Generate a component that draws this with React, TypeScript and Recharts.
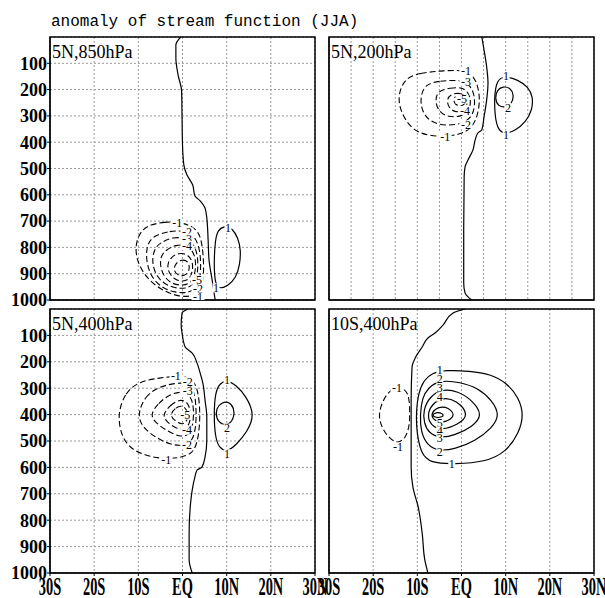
import { ComposedChart, Line, Scatter, XAxis, YAxis, CartesianGrid, ReferenceArea } from 'recharts';

// [latitude (south < 0), pressure hPa]
type Pt = [number, number];
type Lbl = { x: number; p: number; t: string };

const latTicks = [-30, -20, -10, 0, 10, 20, 30];
const latTicksFine = [-30, -25, -20, -15, -10, -5, 0, 5, 10, 15, 20, 25, 30];
const presTicks = [100, 200, 300, 400, 500, 600, 700, 800, 900, 1000];

// ---- 5N,850hPa ----
const zero850: Pt[] = [[-0.4, 0], [-1.5, 30], [-1.5, 80], [-1.0, 144], [-0.2, 205], [-0.1, 308], [0, 410], [0.3, 486], [1.0, 524], [2.3, 562], [2.8, 604], [4.0, 623], [5.1, 650], [5.5, 688], [5.8, 771], [6.0, 847], [6.7, 923], [7.4, 1000]];
const pos850: Pt[][] = [
  [[7.4, 771], [8.0, 733], [9.6, 718], [11.2, 726], [12.6, 764], [13.2, 809], [13.0, 866], [12.1, 916], [10.3, 946], [8.5, 958], [7.4, 942], [7.1, 866]],
];
const neg850: Pt[][] = [
  [[-7.4, 714], [-4.0, 703], [-1.0, 703], [2.2, 718], [4.0, 749], [4.6, 809], [4.9, 885], [4.4, 954], [3.1, 984], [-0.6, 990], [-5.1, 961], [-8.9, 904], [-10.8, 828], [-10.3, 764], [-8.9, 730]],
  [[-6.7, 756], [-2.8, 737], [0.6, 737], [2.8, 756], [4.0, 809], [4.2, 885], [3.7, 946], [1.7, 973], [-1.7, 973], [-5.1, 950], [-7.4, 904], [-8.3, 840], [-8.0, 790]],
  [[-5.1, 783], [-2.2, 760], [0.8, 764], [2.6, 787], [3.5, 832], [3.5, 893], [2.8, 939], [0.8, 958], [-2.2, 954], [-4.9, 931], [-6.5, 889], [-6.9, 840], [-6.2, 802]],
  [[-3.7, 809], [-1.5, 790], [0.8, 790], [2.4, 813], [3.1, 855], [2.8, 904], [1.9, 935], [0.1, 946], [-2.4, 939], [-4.2, 912], [-5.1, 870], [-4.9, 832]],
  [[-2.6, 836], [-0.8, 821], [1.0, 825], [2.2, 847], [2.4, 885], [1.7, 920], [0.1, 931], [-1.7, 923], [-3.1, 897], [-3.5, 866]],
  [[-1.5, 859], [-0.1, 845], [1.4, 853], [1.7, 885], [0.6, 910], [-1.2, 906], [-2.1, 885]],
];
const labels850: Lbl[] = [
  { x: -1.2, p: 707, t: '-1' }, { x: 1.0, p: 741, t: '-2' }, { x: 1.0, p: 766, t: '-3' }, { x: 1.0, p: 792, t: '-4' },
  { x: 3.3, p: 923, t: '-5' }, { x: 3.5, p: 958, t: '-2' }, { x: 3.5, p: 988, t: '-1' },
  { x: 10.3, p: 726, t: '1' }, { x: 7.6, p: 954, t: '1' },
];

// ---- 5N,200hPa ----
const zero200: Pt[] = [[4.6, 0], [5.1, 49], [5.7, 114], [6.0, 175], [5.7, 239], [5.1, 304], [4.6, 353], [3.7, 365], [3.1, 391], [2.6, 429], [1.5, 467], [0.8, 494], [0.6, 532], [0.5, 733], [0.5, 935], [0.8, 973], [2.3, 1000]];
const pos200: Pt[][] = [
  [[8.0, 163], [9.8, 148], [12.8, 163], [15.1, 190], [16.2, 228], [16.0, 277], [14.6, 323], [12.1, 357], [9.8, 369], [8.3, 353], [7.6, 308], [7.4, 228]],
  [[8.0, 201], [9.4, 188], [11.0, 192], [11.9, 220], [11.4, 253], [10.1, 268], [8.3, 264], [7.6, 236]],
];
const neg200: Pt[][] = [
  [[-12.8, 156], [-9.4, 137], [-4.9, 129], [0.1, 125], [2.4, 141], [3.7, 182], [4.2, 239], [3.7, 296], [2.4, 346], [-0.3, 372], [-4.9, 380], [-9.4, 369], [-12.1, 334], [-13.9, 277], [-14.4, 220]],
  [[-8.3, 179], [-4.9, 167], [-0.8, 163], [1.5, 175], [2.8, 209], [3.1, 258], [2.4, 304], [0.1, 331], [-3.7, 338], [-7.1, 323], [-8.9, 285], [-9.4, 232]],
  [[-5.3, 205], [-2.6, 194], [0.1, 190], [1.7, 213], [2.2, 251], [1.5, 285], [-0.3, 304], [-3.3, 304], [-5.3, 281], [-6.0, 239]],
  [[-2.6, 218], [-0.3, 211], [1.2, 228], [1.4, 258], [0.3, 283], [-1.5, 287], [-3.0, 266], [-3.3, 239]],
  [[-1.7, 226], [-0.1, 217], [1.0, 236], [0.8, 257], [-0.6, 265], [-1.8, 251]],
];
const labels200: Lbl[] = [
  { x: 1.0, p: 129, t: '-1' }, { x: 1.0, p: 168, t: '-3' }, { x: 0.1, p: 236, t: '-5' }, { x: 0.8, p: 279, t: '-4' },
  { x: 1.0, p: 334, t: '-2' }, { x: -3.7, p: 380, t: '-1' },
  { x: 10.1, p: 146, t: '1' }, { x: 10.5, p: 268, t: '2' }, { x: 10.1, p: 372, t: '1' },
];

// ---- 5N,400hPa ----
const zero5n400: Pt[] = [[1.2, 0], [-0.1, 15], [-0.3, 61], [-0.1, 91], [0.6, 144], [2.2, 167], [3.3, 205], [4.0, 243], [4.6, 280], [5.1, 345], [5.5, 409], [5.5, 497], [5.1, 561], [4.4, 599], [3.3, 610], [2.8, 637], [2.2, 686], [1.9, 724], [1.5, 849], [1.5, 951], [2.2, 1000]];
const pos5n400: Pt[][] = [
  [[7.4, 315], [8.5, 280], [10.1, 269], [12.1, 288], [14.4, 330], [16.4, 402], [14.6, 466], [12.3, 512], [10.1, 542], [8.3, 527], [7.4, 485], [7.1, 402]],
  [[7.6, 375], [8.9, 354], [10.5, 350], [11.7, 375], [11.7, 411], [10.6, 438], [8.9, 438], [7.6, 417]],
];
const neg5n400: Pt[][] = [
  [[-14.8, 402], [-13.0, 315], [-9.6, 273], [-5.1, 261], [-1.5, 254], [1.2, 258], [2.8, 277], [3.7, 326], [4.0, 402], [3.7, 478], [2.8, 534], [1.2, 557], [-2.8, 569], [-7.4, 561], [-11.4, 534], [-13.7, 489]],
  [[-10.3, 402], [-8.5, 330], [-5.5, 296], [-1.7, 280], [1.2, 280], [2.6, 307], [3.1, 364], [3.1, 440], [2.4, 496], [0.6, 519], [-2.8, 515], [-6.2, 485], [-8.9, 451]],
  [[-7.4, 402], [-5.5, 356], [-2.8, 322], [0.1, 311], [1.9, 330], [2.6, 375], [2.4, 440], [1.5, 478], [-0.6, 485], [-3.5, 462], [-6.0, 432]],
  [[-4.6, 402], [-2.8, 364], [-0.6, 341], [1.2, 352], [1.9, 390], [1.7, 432], [0.6, 459], [-1.7, 451], [-3.5, 428]],
  [[-3.0, 402], [-1.5, 372], [0.1, 364], [1.2, 387], [1.2, 421], [0.1, 440], [-1.6, 426]],
];
const labels5n400: Lbl[] = [
  { x: -1.5, p: 254, t: '-1' }, { x: 1.2, p: 275, t: '-2' }, { x: 1.2, p: 311, t: '-3' }, { x: 0.6, p: 402, t: '-5' },
  { x: 1.0, p: 459, t: '-4' }, { x: 1.0, p: 515, t: '-2' }, { x: -3.7, p: 569, t: '-1' },
  { x: 10.1, p: 269, t: '1' }, { x: 10.1, p: 451, t: '2' }, { x: 10.1, p: 548, t: '1' },
];

// ---- 10S,400hPa ----
const zero10s400: Pt[] = [[0.8, 0], [-1.9, 15], [-4.2, 61], [-6.0, 91], [-7.6, 110], [-8.9, 144], [-10.5, 186], [-11.2, 220], [-11.4, 345], [-11.4, 599], [-11.0, 675], [-9.8, 750], [-8.9, 849], [-8.3, 951], [-7.6, 1000]];
const pos10s400: Pt[][] = [
  [[-6.7, 243], [-3.7, 231], [1.9, 235], [6.5, 246], [10.3, 280], [13.0, 337], [14.1, 402], [13.0, 470], [10.1, 542], [5.3, 580], [-1.5, 587], [-7.1, 584], [-9.2, 546], [-10.1, 470], [-10.3, 402], [-9.8, 318], [-8.5, 269]],
  [[-7.6, 299], [-4.9, 269], [-0.3, 277], [3.7, 299], [6.9, 345], [8.7, 402], [6.9, 451], [3.1, 500], [-1.5, 531], [-5.3, 538], [-7.8, 515], [-9.2, 466], [-9.4, 402], [-8.9, 337]],
  [[-7.1, 330], [-4.4, 303], [-0.8, 311], [2.4, 345], [4.9, 402], [2.4, 447], [-1.5, 478], [-4.9, 489], [-7.4, 470], [-8.5, 432], [-8.7, 383]],
  [[-6.7, 360], [-4.2, 334], [-1.2, 345], [1.9, 402], [-1.0, 440], [-4.4, 459], [-6.9, 443], [-7.8, 402]],
  [[-6.2, 379], [-3.7, 364], [-1.0, 402], [-3.7, 432], [-6.2, 424], [-6.9, 402]],
  [[-7.0, 402], [-5.3, 388], [-3.6, 402], [-5.3, 416]],
];
const neg10s400: Pt[][] = [
  [[-18.9, 402], [-17.8, 345], [-16.2, 307], [-13.9, 292], [-12.1, 315], [-11.7, 364], [-11.7, 440], [-12.6, 489], [-14.6, 512], [-16.6, 485], [-18.0, 451]],
];
const labels10s400: Lbl[] = [
  { x: -4.9, p: 231, t: '1' }, { x: -4.9, p: 263, t: '2' }, { x: -4.9, p: 298, t: '3' }, { x: -4.9, p: 334, t: '4' },
  { x: -4.9, p: 432, t: '5' }, { x: -4.9, p: 462, t: '4' }, { x: -4.9, p: 487, t: '3' }, { x: -4.9, p: 540, t: '2' },
  { x: -2.2, p: 587, t: '1' }, { x: -14.6, p: 299, t: '-1' }, { x: -14.4, p: 523, t: '-1' },
];

const rows = (c: Pt[]) => c.map(([x, p]) => ({ x, p }));
const latName = (v: number) => (v === 0 ? 'EQ' : v < 0 ? `${-v}S` : `${v}N`);

const LatTick = (props: any) => {
  const { x, y, payload } = props;
  if (payload.value % 10 !== 0) return <g />;
  return (
    <text
      transform={`translate(${x},${y - 1}) scale(0.8,1.35)`}
      textAnchor="middle"
      dy="0.72em"
      fontFamily="Liberation Serif"
      fontWeight="bold"
      fontSize={18}
      fill="#000"
    >
      {latName(payload.value)}
    </text>
  );
};

const ContourLabel = (props: any) => {
  const { cx, cy, payload } = props;
  const w = payload.t.length * 6 + 1;
  return (
    <g>
      <rect x={cx - w / 2} y={cy - 4.5} width={w} height={9} fill="#fff" />
      <text x={cx} y={cy} dy="0.36em" textAnchor="middle" fontFamily="Liberation Serif" fontSize={12} fill="#000" stroke="none">
        {payload.t}
      </text>
    </g>
  );
};

interface PanelProps {
  left: number;
  top: number;
  height: number;
  axisH: number;
  name: string;
  zero: Pt[];
  pos: Pt[][];
  neg: Pt[][];
  labels: Lbl[];
  xTicks: number[];
  showX: boolean;
  showY: boolean;
}

function Panel({ left, top, height, axisH, name, zero, pos, neg, labels, xTicks, showX, showY }: PanelProps) {
  const width = 330;
  // grid follows the panel's own latitude ticks (5 deg for the 200hPa panel)
  const gridX = ({ offset }: any) => xTicks.map((t) => offset.left + ((t + 30) / 60) * offset.width);
  return (
    <div style={{ position: 'absolute', left, top, width, height }}>
      <ComposedChart width={width} height={height} margin={{ top: 37, right: 15, bottom: 0, left: 0 }}>
        <CartesianGrid stroke="#999" strokeDasharray="2 2" verticalCoordinatesGenerator={gridX} />
        <XAxis
          type="number"
          dataKey="x"
          domain={[-30, 30]}
          ticks={xTicks}
          interval={0}
          allowDataOverflow
          height={axisH}
          tickSize={3}
          tickMargin={2}
          axisLine={{ stroke: '#000' }}
          tickLine={{ stroke: '#000' }}
          tick={showX ? LatTick : false}
        />
        <YAxis
          type="number"
          dataKey="p"
          domain={[0, 1000]}
          reversed
          ticks={presTicks}
          interval={0}
          allowDataOverflow
          width={50}
          tickSize={3}
          tickMargin={0}
          axisLine={{ stroke: '#000' }}
          tickLine={{ stroke: '#000' }}
          tick={showY ? { fontFamily: 'Liberation Serif', fontWeight: 'bold', fontSize: 18, fill: '#000' } : false}
        />
        <Line data={rows(zero)} dataKey="p" type="monotoneY" stroke="#000" strokeWidth={1.2} dot={false} activeDot={false} isAnimationActive={false} />
        {pos.map((c, i) => (
          <Line key={'pos' + i} data={rows(c)} dataKey="p" type="basisClosed" stroke="#000" strokeWidth={1.2} dot={false} activeDot={false} isAnimationActive={false} />
        ))}
        {neg.map((c, i) => (
          <Line key={'neg' + i} data={rows(c)} dataKey="p" type="basisClosed" stroke="#000" strokeWidth={1.1} strokeDasharray="6 3" dot={false} activeDot={false} isAnimationActive={false} />
        ))}
        <Scatter data={labels} dataKey="p" shape={ContourLabel} isAnimationActive={false} />
        <ReferenceArea x1={-30} x2={30} y1={0} y2={1000} fill="none" stroke="#000" strokeWidth={1.5} />
      </ComposedChart>
      <div
        style={{
          position: 'absolute',
          left: 52,
          top: 43,
          fontFamily: 'Liberation Serif',
          fontSize: 18,
          lineHeight: '18px',
          color: '#000',
          whiteSpace: 'nowrap',
        }}
      >
        {name}
      </div>
    </div>
  );
}

export default function App() {
  return (
    <div style={{ position: 'absolute', left: 0, top: 0, width: 605, height: 598, overflow: 'hidden', background: '#fff' }}>
      <div
        style={{
          position: 'absolute',
          left: 51,
          top: 14,
          fontFamily: 'Liberation Mono',
          fontSize: 16,
          lineHeight: '16px',
          color: '#000',
          whiteSpace: 'pre',
        }}
      >
        anomaly of stream function (JJA)
      </div>
      <Panel left={0} top={0} height={310} axisH={10} name="5N,850hPa" zero={zero850} pos={pos850} neg={neg850} labels={labels850} xTicks={latTicks} showX={false} showY />
      <Panel left={279} top={0} height={310} axisH={10} name="5N,200hPa" zero={zero200} pos={pos200} neg={neg200} labels={labels200} xTicks={latTicksFine} showX={false} showY={false} />
      <Panel left={0} top={272} height={326} axisH={25} name="5N,400hPa" zero={zero5n400} pos={pos5n400} neg={neg5n400} labels={labels5n400} xTicks={latTicks} showX showY />
      <Panel left={279} top={272} height={326} axisH={25} name="10S,400hPa" zero={zero10s400} pos={pos10s400} neg={neg10s400} labels={labels10s400} xTicks={latTicks} showX showY={false} />
    </div>
  );
}
